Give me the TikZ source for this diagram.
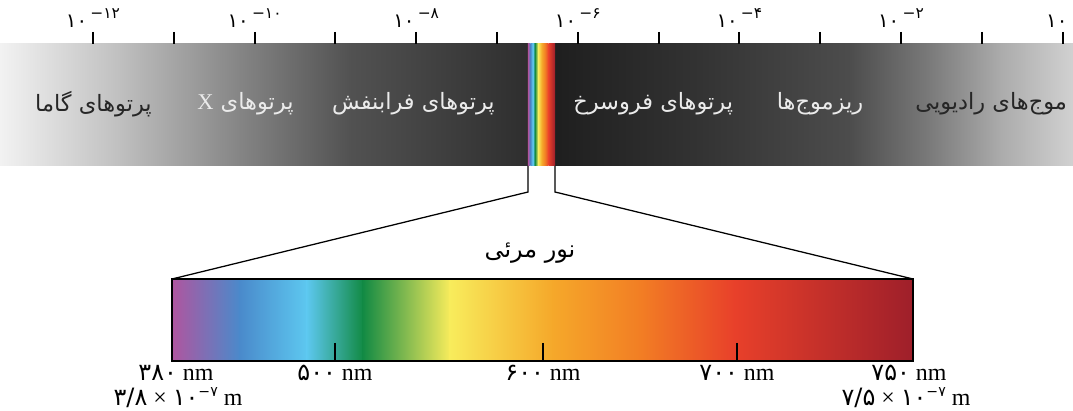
\documentclass[tikz,border=0pt]{standalone}
\usepackage{fontspec}
\setmainfont{Liberation Serif}
\newfontfamily\farsi[Script=Arabic]{DejaVu Sans}
\newfontfamily\fanum{DejaVu Sans}
\TeXXeTstate=1
\definecolor{spA}{HTML}{B0559F}
\definecolor{spB}{HTML}{4A8ACB}
\definecolor{spC}{HTML}{5DC8F0}
\definecolor{spD}{HTML}{128A44}
\definecolor{spE}{HTML}{F8EC5C}
\definecolor{spF}{HTML}{F5A82A}
\definecolor{spG}{HTML}{F27E24}
\definecolor{spH}{HTML}{E8402A}
\definecolor{spI}{HTML}{9E1F2A}
\newcommand{\fa}[1]{{\farsi\beginR #1\endR}}
\newcommand{\spectrumbar}[2]{%
  \foreach \xa/\xb/\ca/\cb in {0/68/spA/spB,68/135/spB/spC,135/191/spC/spD,191/278/spD/spE,278/381/spE/spF,381/468/spF/spG,468/563/spG/spH,563/741/spH/spI}
    \shade[left color=\ca,right color=\cb] (\xa-0.3,#1) rectangle (\xb+0.3,#2);
}
\tikzset{
  axistick/.style={line width=1.4pt},
  bartick/.style={line width=1.6pt},
  zoomline/.style={line width=0.9pt},
  bandlabel/.style={font=\fontsize{16}{18}\selectfont, inner sep=0pt},
  powlabel/.style={font=\fontsize{14}{15}\selectfont, inner sep=0pt},
  nmlabel/.style={font=\fontsize{17}{18}\selectfont, inner sep=0pt},
}

\begin{document}
\begin{tikzpicture}[x=0.025cm,y=-0.025cm]
\useasboundingbox (0,0) rectangle (1073,411);
% grey band
\foreach \xa/\xb/\ga/\gb in {0/120/5/25,120/240/25/48,240/350/48/68,350/528/68/82,555/700/88/80,700/850/80/70,850/930/70/52,930/1000/52/33,1000/1073/33/18}
  \shade[left color=black!\ga,right color=black!\gb] (\xa-0.3,44) rectangle (\xb+0.3,166);
\begin{scope}[shift={(528,0)},xscale=27/741]
  \spectrumbar{44}{166}
\end{scope}
% wavelength axis
\foreach \k in {0,...,12}
  \draw[axistick] ({93+80.8*\k},32) -- ({93+80.8*\k},44);
\foreach \k/\e in {0/−۱۲,2/−۱۰,4/−۸,6/−۶,8/−۴,10/−۲,12/۰}
  \node[powlabel,anchor=base] (pow\k) at ({93+80.8*\k},28) {\fanum ۱۰\,\raisebox{0.5em}{\fontsize{11}{12}\selectfont \e}};
% names of the regions
\node[bandlabel,text=black!85,anchor=east] (gamma) at (152,104) {\fa{پرتوهای گاما}};
\node[bandlabel,text=white!92!black,anchor=west] (xray) at (197,104) {\fa{پرتوهای \beginL{\rmfamily X}\endL}};
\node[bandlabel,text=white!92!black,anchor=east] (uv) at (495,104) {\fa{پرتوهای فرابنفش}};
\node[bandlabel,text=white!92!black,anchor=west] (ir) at (573,104) {\fa{پرتوهای فروسرخ}};
\node[bandlabel,text=white!92!black] (micro) at (820,104) {\fa{ریزموج^^^^200cها}};
\node[bandlabel,text=black!85,anchor=west] (radio) at (915,104) {\fa{موج^^^^200cهای رادیویی}};
% visible light
\coordinate (visL) at (528,166);
\coordinate (visR) at (555,166);
\coordinate (barNW) at (172,279);
\coordinate (barNE) at (913,279);
\coordinate (barSE) at (913,361);
\draw[zoomline] (visL) -- ++(0,26) -- (barNW);
\draw[zoomline] (visR) -- ++(0,26) -- (barNE);
\node[bandlabel,font=\fontsize{17}{18}\selectfont] (visname) at (530,253) {\fa{نور مرئی}};
\begin{scope}[shift={(172,0)}]
  \spectrumbar{279}{361}
\end{scope}
\draw[line width=1.8pt] (barNW) rectangle (barSE);
\foreach \x/\d in {335/۵۰۰,543/۶۰۰,737/۷۰۰}{
  \draw[bartick] (\x,343) -- (\x,361);
  \node[nmlabel,anchor=base] (nm\x) at (\x,381) {{\fanum \d}~nm};
}
\node[nmlabel,anchor=base] (lo380) at (176,381) {{\fanum ۳۸۰}~nm};
\node[nmlabel,anchor=base] (lo38) at (178,406) {{\fanum ۳/۸}~×~{\fanum ۱۰}\raisebox{0.4em}{\fanum\fontsize{10}{11}\selectfont −۷}~m};
\node[nmlabel,anchor=base] (hi750) at (909,381) {{\fanum ۷۵۰}~nm};
\node[nmlabel,anchor=base] (hi75) at (906,406) {{\fanum ۷/۵}~×~{\fanum ۱۰}\raisebox{0.4em}{\fanum\fontsize{10}{11}\selectfont −۷}~m};
\end{tikzpicture}
\end{document}
